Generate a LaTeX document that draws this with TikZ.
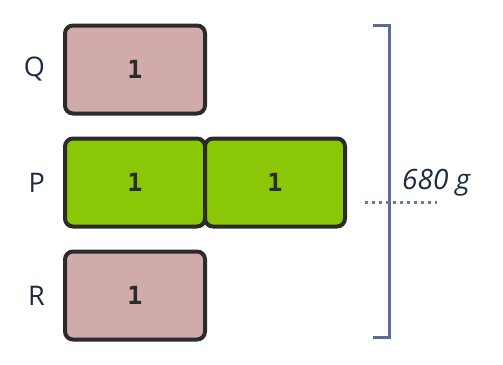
\documentclass[tikz,border=0pt]{standalone}
\usepackage{fontspec}
\setmainfont{Open Sans}
\newfontfamily\digitfont{DejaVu Sans Mono}
\usetikzlibrary{positioning}

\definecolor{barpink}{HTML}{D1ABAB}
\definecolor{bargreen}{HTML}{8AC706}
\definecolor{barline}{HTML}{2B2B2B}
\definecolor{bracecol}{HTML}{5A6E8E}
\definecolor{labelcol}{HTML}{1C2B40}

\begin{document}
\begin{tikzpicture}[
    x=1pt, y=-1pt,
    node distance=21pt and 18pt,
    bar/.style={rectangle, draw=barline, line width=4pt, rounded corners=8pt,
                minimum width=140pt, minimum height=88pt, inner sep=0pt,
                font=\digitfont\bfseries\fontsize{25}{25}\selectfont, text=barline},
    rowlabel/.style={font=\fontsize{27}{27}\selectfont, text=labelcol, inner sep=0pt},
    brace/.style={draw=bracecol, line width=3pt},
]
    \useasboundingbox (0,0) rectangle (503,364);

    \node[bar, fill=barpink]  at (135,69.5) (q)  {1};
    \node[bar, fill=bargreen, below=of q]       (p1) {1};
    \node[bar, fill=bargreen, right=-4pt of p1] (p2) {1};
    \node[bar, fill=barpink,  below=of p1]      (r)  {1};

    \node[rowlabel, left=of q]  (lq) {Q};
    \node[rowlabel, left=of p1] (lp) {P};
    \node[rowlabel, left=of r]  (lr) {R};

    % bracket for the total
    \coordinate (top)    at (373,25.5);
    \coordinate (bottom) at (373,337.5);
    \draw[brace] (top) -- ++(16,0) |- (bottom);

    \coordinate (dotl) at (365,202);
    \coordinate (dotr) at (437,202);
    \draw[bracecol!90, line width=3pt, dash pattern=on 3pt off 4pt] (dotl) -- (dotr);

    \node[font=\itshape\fontsize{28}{28}\selectfont, text=labelcol, anchor=west, inner sep=0pt]
        at (402,183) (total) {680 g};
\end{tikzpicture}
\end{document}
